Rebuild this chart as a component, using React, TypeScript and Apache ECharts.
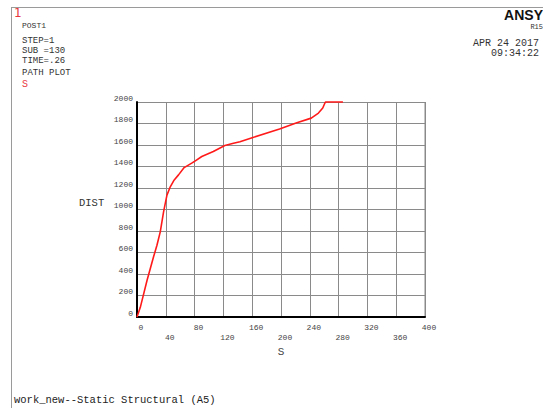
import React, { useEffect, useRef } from "react";
import * as echarts from "echarts";

const sValues = [0, 4.6, 13.9, 23, 27.7, 32.3, 36.9, 41.6, 46.2, 51.7, 57.7, 65.5, 76, 81, 90, 106, 122, 134, 143, 161, 198, 221, 242, 252, 258, 261, 262, 286];
const distValues = [0, 90, 340, 560, 668, 792, 978, 1134, 1211, 1275, 1322, 1390, 1431, 1453, 1493, 1540, 1596, 1617, 1630, 1670, 1748, 1804, 1850, 1897, 1944, 1991, 2000, 2000];

const headerLines = ["STEP=1", "SUB =130", "TIME=.26", "PATH PLOT"];
const dateLines = ["APR 24 2017", "09:34:22"];
const footer = "work_new--Static Structural (A5)";

const MONO = "'Liberation Mono', 'DejaVu Sans Mono', monospace";

export default function App() {
  const ref = useRef<HTMLDivElement>(null);
  useEffect(() => {
    if (!ref.current) return;
    const chart = echarts.init(ref.current, null, { renderer: "svg" });
    const data = sValues.map((s, i) => [s, distValues[i]]);
    const headerY = [40.5, 50.5, 61, 72.5];
    chart.setOption({
      animation: false,
      backgroundColor: "#ffffff",
      grid: { left: 137, top: 102, width: 288, height: 215, containLabel: false },
      xAxis: {
        type: "value",
        min: 0,
        max: 400,
        interval: 40,
        axisLine: { show: true, onZero: false, lineStyle: { color: "#000", width: 2 } },
        axisTick: { show: false },
        splitLine: { show: true, lineStyle: { color: "#8a8a8a", width: 1 } },
        axisLabel: {
          margin: 5,
          fontFamily: MONO,
          fontSize: 8,
          color: "#444",
          lineHeight: 10,
          padding: [0, 0, 0, 8],
          formatter: (v: number) => (Math.round(v / 40) % 2 === 1 ? "\n" + v : String(v)),
        },
        name: "S",
        nameLocation: "middle",
        nameGap: 26,
        nameTextStyle: { fontFamily: MONO, fontSize: 11, color: "#444" },
      },
      yAxis: {
        type: "value",
        min: 0,
        max: 2000,
        interval: 200,
        axisLine: { show: true, onZero: false, lineStyle: { color: "#000", width: 2 } },
        axisTick: { show: false },
        splitLine: { show: true, lineStyle: { color: "#8a8a8a", width: 1 } },
        axisLabel: {
          margin: 4,
          fontFamily: MONO,
          fontSize: 8,
          color: "#444",
          verticalAlign: "bottom",
          formatter: (v: number) => String(v),
        },
      },
      series: [
        {
          type: "line",
          data,
          showSymbol: false,
          symbol: "none",
          lineStyle: { color: "#ff1a1a", width: 1.6 },
          clip: false,
        },
      ],
      graphic: [
        { type: "line", shape: { x1: 12, y1: 7.5, x2: 543, y2: 7.5 }, style: { stroke: "#9a9a9a", lineWidth: 1 } },
        { type: "line", shape: { x1: 11.5, y1: 7, x2: 11.5, y2: 408 }, style: { stroke: "#9a9a9a", lineWidth: 1 } },
        { type: "line", shape: { x1: 425, y1: 102, x2: 425, y2: 317 }, style: { stroke: "#8a8a8a", lineWidth: 1 } },
        { type: "text", left: 14, top: 7, style: { text: "1", fill: "#e8383d", font: "12px 'DejaVu Sans', sans-serif" } },
        { type: "text", left: 22, top: 21, style: { text: "POST1", fill: "#333", font: "8px " + MONO } },
        ...headerLines.map((t, i) => ({
          type: "text",
          x: 22,
          y: headerY[i],
          style: { text: t, fill: "#333", font: "9px " + MONO, verticalAlign: "middle" },
        })),
        { type: "text", left: 22, top: 79, style: { text: "S", fill: "#e8383d", font: "10px " + MONO } },
        { type: "text", right: 0, top: 8, style: { text: "ANSY", fill: "#111", font: "bold 14px 'Liberation Sans', Arial, sans-serif" } },
        { type: "text", right: 0, top: 23, style: { text: "R15", fill: "#333", font: "7px " + MONO } },
        ...dateLines.map((t, i) => ({
          type: "text",
          right: 4,
          top: 38 + i * 10,
          style: { text: t, fill: "#333", font: "10px " + MONO, align: "right" },
        })),
        { type: "text", left: 79, top: 197, style: { text: "DIST", fill: "#333", font: "10.5px " + MONO } },
        { type: "text", left: 14, top: 394, style: { text: footer, fill: "#222", font: "10.5px " + MONO } },
      ],
    });
    return () => chart.dispose();
  }, []);
  return (
    <div
      ref={ref}
      style={{ position: "absolute", left: 0, top: 0, width: 543, height: 408 }}
    />
  );
}
